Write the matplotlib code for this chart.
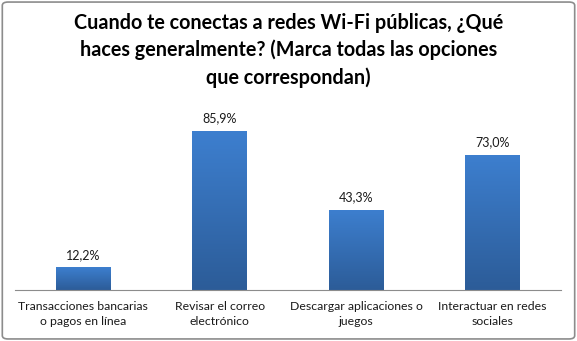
import numpy as np
import matplotlib.pyplot as plt
from matplotlib.patches import FancyBboxPatch
from matplotlib.colors import LinearSegmentedColormap

categorias = ["Transacciones bancarias\no pagos en línea",
              "Revisar el correo\nelectrónico",
              "Descargar aplicaciones o\njuegos",
              "Interactuar en redes\nsociales"]
valores = [12.2, 85.9, 43.3, 73.0]
etiquetas = ["12,2%", "85,9%", "43,3%", "73,0%"]
titulo = ("Cuando te conectas a redes Wi-Fi públicas, ¿Qué\n"
          "haces generalmente? (Marca todas las opciones\n"
          "que correspondan)")

plt.rcParams['font.family'] = ['Lato', 'DejaVu Sans']

fig = plt.figure(figsize=(5.77, 3.41), dpi=100)
fig.patch.set_facecolor('white')
# marco gris redondeado
fig.patches.append(FancyBboxPatch((0.004, 0.006), 0.992, 0.988,
                                  boxstyle="round,pad=0,rounding_size=0.01",
                                  transform=fig.transFigure, fill=False,
                                  edgecolor='#8c8c8c', linewidth=1.2))

ax = fig.add_axes([0.026, 0.1496, 0.946, 0.5425])
x = np.arange(len(valores))
bars = ax.bar(x, valores, width=0.4, color='none', edgecolor='none')

# degradado vertical en cada barra
grad = np.linspace(0, 1, 256).reshape(-1, 1)
cmap = LinearSegmentedColormap.from_list('azul', ['#2c5c98', '#3d7fcf'])
for b in bars:
    x0, w, h = b.get_x(), b.get_width(), b.get_height()
    im = ax.imshow(grad, extent=(x0, x0 + w, 0, h), origin='lower',
                   cmap=cmap, aspect='auto', zorder=2)
    im.set_clip_path(b)

for xi, v, t in zip(x, valores, etiquetas):
    ax.text(xi, v + 3.5, t, ha='center', va='bottom', fontsize=9, color='#1a1a1a')

ax.set_xlim(-0.5, len(valores) - 0.5)
ax.set_ylim(0, 100)
ax.set_yticks([])
ax.set_xticks(x)
ax.set_xticklabels(categorias, fontsize=8.8, color='#1a1a1a', linespacing=1.45)
ax.tick_params(axis='x', length=0, pad=8)
for s in ['top', 'right', 'left']:
    ax.spines[s].set_visible(False)
ax.spines['bottom'].set_color('#8c8c8c')

fig.text(0.5, 0.962, titulo, ha='center', va='top', fontsize=14.2,
         fontweight='bold', linespacing=1.42)

fig.savefig('out.png', dpi=100)
